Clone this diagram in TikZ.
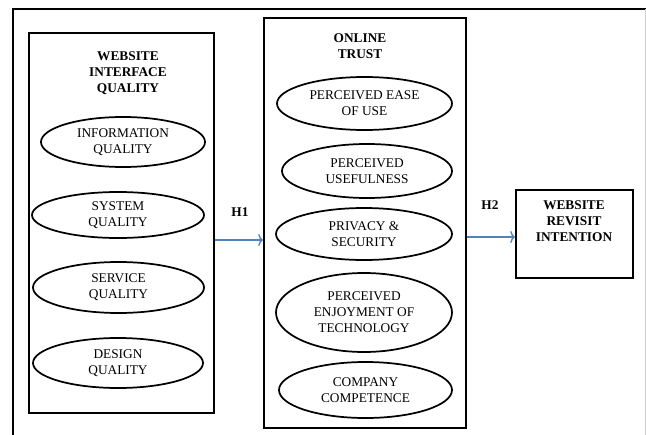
\documentclass[tikz,border=0pt]{standalone}
\usepackage{fontspec}
\setmainfont{Liberation Serif}
\usepackage{xcolor}
\usetikzlibrary{shapes.geometric,arrows.meta}

\definecolor{hypblue}{RGB}{79,129,189}

\tikzset{
  groupbox/.style={draw, line width=1.6pt, rectangle, inner sep=0pt},
  factor/.style={draw, ellipse, line width=1.3pt, inner sep=0pt, align=center, font=\fontsize{10}{12}\selectfont},
  heading/.style={inner sep=0.75pt, align=center, font=\bfseries\fontsize{10}{12}\selectfont},
  hyparrow/.style={draw=hypblue, line width=1pt, -{To[length=3.5pt,width=9pt]}}
}

\begin{document}
\begin{tikzpicture}[x=0.75pt,y=0.75pt,yscale=-1,xscale=1]

\useasboundingbox (0,0) rectangle (646,435);

\draw [line width=1.4pt] (13,435) -- (13,9) -- (646,9) ;
\draw [color=black!20, line width=0.6pt] (645,9) -- (645,435) ;

\node [groupbox, minimum width=138.75pt, minimum height=285pt] (wiq) at (121.5,223) {};

\node [groupbox, minimum width=151.5pt, minimum height=307.5pt] (trust) at (365,223) {};

\node [groupbox, minimum width=87.75pt, minimum height=66pt] (revisit) at (574.5,234) {};

\node [heading] (wiqtitle) at (128,73) {WEBSITE\\INTERFACE\\QUALITY};

\node [heading] (trusttitle) at (360,46.5) {ONLINE\\TRUST};

\node [heading] (revisittitle) at (574,221) {WEBSITE\\REVISIT\\INTENTION};

\node [factor, minimum width=123pt, minimum height=37.5pt] (infq) at (123,142) {INFORMATION\\QUALITY};

\node [factor, minimum width=129pt, minimum height=34.5pt] (sysq) at (118,215) {SYSTEM\\QUALITY};

\node [factor, minimum width=128.25pt, minimum height=38.25pt] (servq) at (118.5,287.5) {SERVICE\\QUALITY};

\node [factor, minimum width=127.5pt, minimum height=37.5pt] (desq) at (118,363) {DESIGN\\QUALITY};

\node [factor, minimum width=131.25pt, minimum height=39.75pt] (peou) at (364.5,103.5) {PERCEIVED EASE\\OF USE};

\node [factor, minimum width=127.5pt, minimum height=40.5pt] (pu) at (367,171) {PERCEIVED\\USEFULNESS};

\node [factor, minimum width=132pt, minimum height=39pt] (privsec) at (364,234) {PRIVACY \&\\SECURITY};

\node [factor, minimum width=132pt, minimum height=59.25pt] (penjoy) at (364,312.5) {PERCEIVED\\ENJOYMENT OF\\TECHNOLOGY};

\node [factor, minimum width=129.75pt, minimum height=42pt] (compc) at (365.5,390) {COMPANY\\COMPETENCE};

\draw [hyparrow] ([yshift=12.75pt]wiq.east) -- ([yshift=12.75pt]trust.west) ;

\draw [hyparrow] ([yshift=2.25pt]trust.east |- revisit.west) -- ([yshift=2.25pt]revisit.west) ;

\node [heading] (hone) at (240,212) {H1};

\node [heading] (htwo) at (490,205) {H2};

\end{tikzpicture}
\end{document}
